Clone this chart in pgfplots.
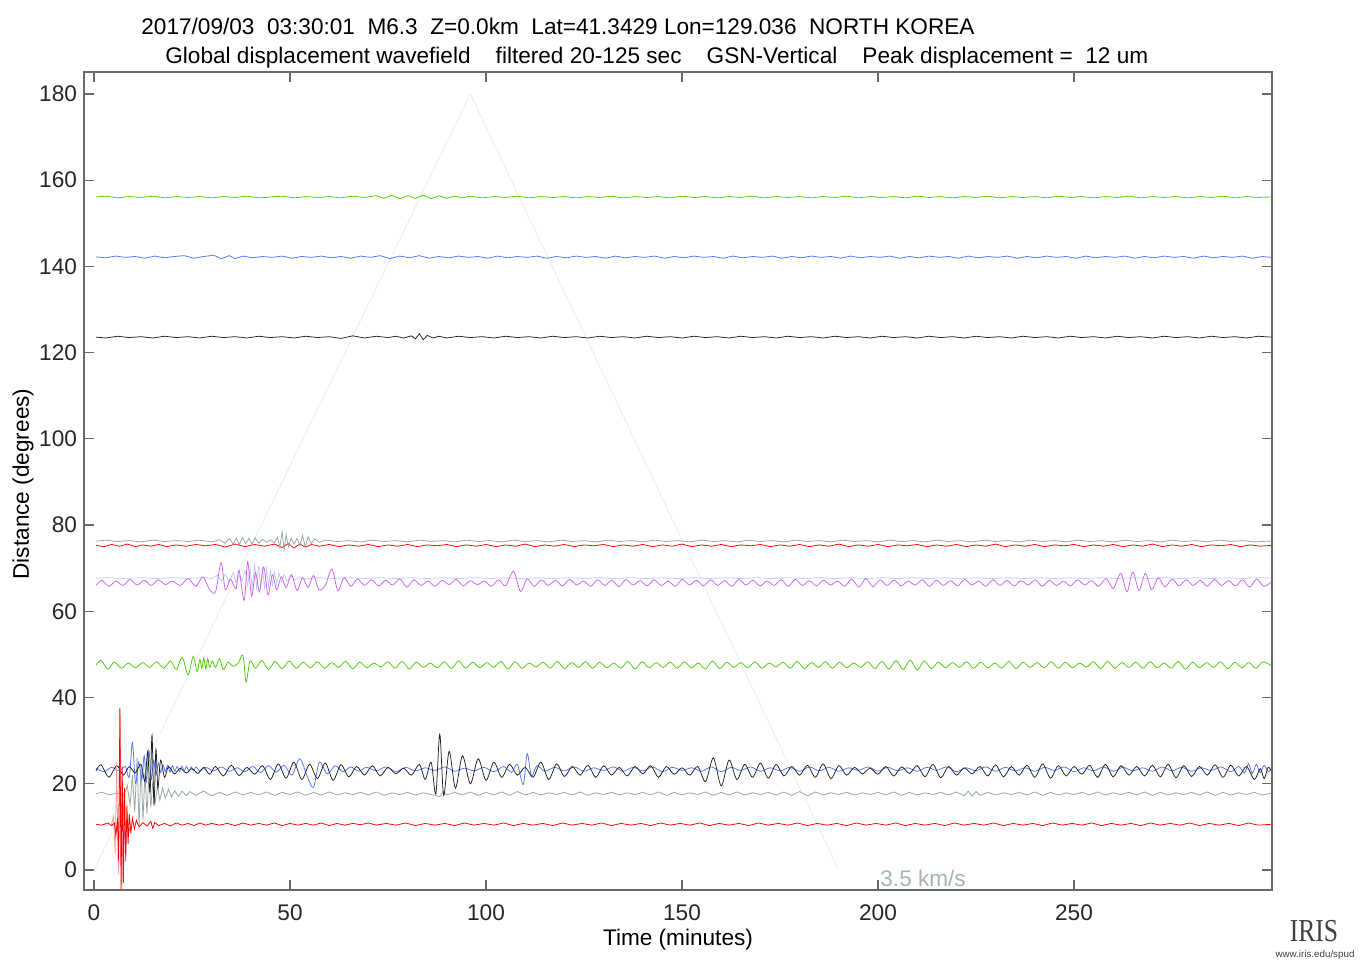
\documentclass[border=0pt]{standalone}
\usepackage{pgfplots}
\pgfplotsset{compat=1.18}
\usepackage{fontspec}
\setmainfont{Liberation Sans}
\newfontfamily\irisfont{Liberation Serif}
\definecolor{cgreen}{RGB}{80,205,10}
\definecolor{cblue}{RGB}{85,115,255}
\definecolor{cblack}{RGB}{35,35,35}
\definecolor{cmag}{RGB}{205,100,245}
\definecolor{clav}{RGB}{195,200,255}
\definecolor{cgray}{RGB}{150,165,165}
\definecolor{cred}{RGB}{255,0,0}
\definecolor{cpink}{RGB}{255,150,150}
\definecolor{caxis}{RGB}{105,105,105}
\definecolor{ctri}{RGB}{234,237,237}
\definecolor{ckm}{RGB}{165,180,180}
\begin{document}
\begin{tikzpicture}
\path[use as bounding box] (-42pt,-35.5pt) rectangle (639pt,445pt);
\begin{axis}[at={(0pt,0pt)}, anchor=south west, scale only axis,
  width=594pt, height=409pt,
  xmin=-2.55, xmax=300.5, ymin=-4.64, ymax=185.1,
  xtick={0,50,100,150,200,250}, ytick={0,20,40,60,80,100,120,140,160,180},
  tick align=inside, major tick length=5pt,
  axis line style={caxis, line width=0.6pt},
  every tick/.style={caxis, line width=0.6pt},
  tick label style={font=\fontsize{11.3}{13}\selectfont, text=black!85},
  /pgf/number format/assume math mode=true,
  xticklabel style={yshift=-4pt},
  every axis plot/.append style={line width=0.38pt},
]
% 3.5 km/s reference lines
\addplot[ctri, line width=0.4pt] coordinates {(0,0) (96,180) (190,0)};
% green 156
\addplot[cgreen] coordinates {(0.5,156.1) (3,156.3) (6,155.9) (9,156.2) (12,156.0) (15,156.3) (18,155.9) (21,156.2) (24,156.0) (27,156.2) (30,155.9) (33,156.2) (36,156.0) (39,156.3) (42,155.9) (45,156.1) (48,156.3) (51,155.9) (54,156.2) (57,156.0) (60,156.2) (63,155.9) (66,156.3) (69,156.0) (72,156.4) (74,155.8) (76,156.5) (78,155.7) (80,156.4) (82,155.8) (84,156.5) (86,155.7) (88,156.4) (90,155.8) (92,156.3) (94,155.9) (96,156.3) (99,155.9) (102,156.2) (105,156.0) (108,156.3) (111,155.9) (114,156.2) (117,156.0) (120,156.2) (123,155.9) (126,156.2) (129,156.0) (132,156.3) (135,155.9) (138,156.2) (141,156.0) (144,156.2) (147,155.9) (150,156.3) (153,156.0) (156,156.2) (159,155.9) (162,156.2) (165,156.0) (168,156.3) (171,155.9) (174,156.2) (177,156.0) (180,156.2) (183,155.9) (186,156.2) (189,156.0) (192,156.3) (195,155.9) (198,156.2) (201,156.0) (204,156.2) (207,155.9) (210,156.3) (213,156.0) (216,156.2) (219,155.9) (222,156.2) (225,156.0) (228,156.3) (231,155.9) (234,156.2) (237,156.0) (240,156.2) (243,155.9) (246,156.3) (249,156.0) (252,156.2) (255,155.9) (258,156.2) (261,156.0) (264,156.3) (267,155.9) (270,156.2) (273,156.0) (276,156.2) (279,155.9) (282,156.2) (285,156.0) (288,156.3) (291,155.9) (294,156.2) (297,156.0) (300.3,156.1)};
% blue 142
\addplot[cblue] coordinates {(0.5,142.2) (3,142.0) (5.5,142.4) (8,142.1) (10.5,142.3) (13,141.9) (15.5,142.4) (18,142.0) (20.5,142.3) (23,142.5) (25.5,141.9) (28,142.3) (30.5,142.6) (32.5,141.8) (34.5,142.5) (36,141.8) (38,142.4) (40.5,142.0) (43,142.3) (45.5,142.1) (48,142.4) (50.5,141.9) (53,142.3) (55.5,142.1) (58,142.4) (60.5,142.0) (63,142.3) (65.5,141.9) (68,142.4) (70.5,142.1) (73,142.5) (75.5,141.8) (78,142.4) (80.5,142.0) (83,142.5) (85.5,141.9) (88,142.3) (90.5,142.0) (93,142.4) (95.5,142.1) (98,142.3) (100.5,141.9) (103,142.4) (105.5,142.0) (108,142.3) (110.5,142.1) (113,142.4) (115.5,141.9) (118,142.3) (120.5,142.0) (123,142.4) (125.5,142.1) (128,142.3) (130.5,141.9) (133,142.4) (135.5,142.0) (138,142.3) (140.5,142.1) (143,142.4) (145.5,141.9) (148,142.3) (150.5,142.0) (153,142.4) (155.5,142.1) (158,142.3) (160.5,141.9) (163,142.4) (165.5,142.0) (168,142.3) (170.5,142.1) (173,142.4) (175.5,141.9) (178,142.3) (180.5,142.0) (183,142.4) (185.5,142.1) (188,142.3) (190.5,141.9) (193,142.4) (195.5,142.0) (198,142.3) (200.5,142.1) (203,142.4) (205.5,141.9) (208,142.3) (210.5,142.0) (213,142.4) (215.5,142.1) (218,142.3) (220.5,141.9) (223,142.4) (225.5,142.0) (228,142.3) (230.5,142.1) (233,142.4) (235.5,141.9) (238,142.3) (240.5,142.0) (243,142.4) (245.5,142.1) (248,142.3) (250.5,141.9) (253,142.4) (255.5,142.0) (258,142.3) (260.5,142.1) (263,142.4) (265.5,141.9) (268,142.3) (270.5,142.0) (273,142.4) (275.5,142.1) (278,142.3) (280.5,141.9) (283,142.4) (285.5,142.0) (288,142.3) (290.5,142.1) (293,142.4) (295.5,141.9) (298,142.3) (300.3,142.1)};
% black 123.6
\addplot[cblack] coordinates {(0.5,123.6) (3,123.4) (6,123.8) (9,123.5) (12,123.7) (15,123.4) (18,123.8) (21,123.5) (24,123.7) (27,123.4) (30,123.8) (33,123.5) (36,123.7) (39,123.4) (42,123.8) (45,123.5) (48,123.7) (51,123.4) (54,123.8) (57,123.5) (60,123.7) (63,123.3) (66,123.9) (69,123.4) (72,123.8) (75,123.5) (77,123.8) (79,123.4) (81,123.9) (82,123.2) (83,124.4) (84,123.0) (85,124.0) (86.5,123.4) (88,123.8) (90,123.4) (93,123.8) (96,123.5) (99,123.7) (102,123.4) (105,123.8) (108,123.5) (111,123.7) (114,123.4) (117,123.8) (120,123.5) (123,123.7) (126,123.4) (129,123.8) (132,123.5) (135,123.7) (138,123.4) (141,123.8) (144,123.5) (147,123.7) (150,123.4) (153,123.8) (156,123.5) (159,123.7) (162,123.4) (165,123.8) (168,123.5) (171,123.7) (174,123.4) (177,123.8) (180,123.5) (183,123.7) (186,123.4) (189,123.8) (192,123.5) (195,123.7) (198,123.4) (201,123.8) (204,123.5) (207,123.7) (210,123.4) (213,123.8) (216,123.5) (219,123.7) (222,123.4) (225,123.8) (228,123.5) (231,123.7) (234,123.4) (237,123.8) (240,123.5) (243,123.7) (246,123.4) (249,123.8) (252,123.5) (255,123.7) (258,123.4) (261,123.8) (264,123.5) (267,123.7) (270,123.4) (273,123.8) (276,123.5) (279,123.7) (282,123.4) (285,123.8) (288,123.5) (291,123.7) (294,123.4) (297,123.8) (300.3,123.6)};
% red 75.3
\addplot[cred] coordinates {(0.5,75.3) (2.5,75.0) (4.5,75.5) (6.5,75.1) (8.5,75.6) (10.5,75.0) (12.5,75.4) (14.5,75.1) (16.5,75.5) (18.5,75.0) (21,75.4) (23.5,75.1) (26,75.5) (28.5,75.2) (31,75.5) (33.5,74.9) (36,75.6) (38.5,75.0) (41,75.5) (43.5,75.1) (46,75.6) (48,74.8) (49.5,75.7) (51,74.7) (52.5,75.6) (54,74.9) (55.5,75.5) (57.5,75.1) (60,75.5) (62.5,75.0) (65,75.4) (67.5,75.1) (70,75.5) (72.5,75.0) (75,75.4) (77.5,75.1) (80,75.5) (82.5,75.0) (85,75.4) (87.5,75.2) (90,75.5) (92.5,75.0) (95,75.4) (97.5,75.1) (100,75.5) (102.5,75.0) (105,75.4) (107.5,75.1) (110,75.6) (112.5,75.0) (115,75.4) (117.5,75.1) (120,75.5) (122.5,75.0) (125,75.4) (127.5,75.2) (130,75.5) (132.5,75.0) (135,75.4) (137.5,75.1) (140,75.5) (142.5,75.0) (145,75.4) (147.5,75.1) (150,75.6) (152.5,75.0) (155,75.4) (157.5,75.1) (160,75.5) (162.5,75.0) (165,75.4) (167.5,75.2) (170,75.5) (172.5,75.0) (175,75.4) (177.5,75.1) (180,75.5) (182.5,75.0) (185,75.4) (187.5,75.1) (190,75.6) (192.5,75.0) (195,75.4) (197.5,75.1) (200,75.5) (202.5,75.0) (205,75.4) (207.5,75.2) (210,75.5) (212.5,75.0) (215,75.4) (217.5,75.1) (220,75.5) (222.5,75.0) (225,75.4) (227.5,75.1) (230,75.6) (232.5,75.0) (235,75.4) (237.5,75.1) (240,75.5) (242.5,75.0) (245,75.4) (247.5,75.2) (250,75.5) (252.5,75.0) (255,75.4) (257.5,75.1) (260,75.5) (262.5,75.0) (265,75.4) (267.5,75.1) (270,75.6) (272.5,75.0) (275,75.4) (277.5,75.1) (280,75.5) (282.5,75.0) (285,75.4) (287.5,75.2) (290,75.5) (292.5,75.0) (295,75.4) (297.5,75.1) (300.3,75.3)};
% gray 76.3
\addplot[cgray] coordinates {(0.5,76.3) (3,76.5) (6,76.2) (9,76.4) (12,76.1) (15,76.5) (18,76.2) (21,76.4) (24,76.2) (27,76.5) (30,76.1) (32,76.6) (33.5,75.8) (34.5,76.9) (35.5,75.6) (36.3,77.0) (37.1,75.5) (37.9,77.1) (38.7,75.7) (39.5,76.9) (40.3,75.6) (41.1,77.0) (42,75.8) (43,76.7) (44,76.0) (45,76.6) (46,75.9) (46.8,77.2) (47.4,74.8) (48.0,78.5) (48.5,74.2) (49.0,77.8) (49.6,75.0) (50.3,77.0) (51,75.6) (51.8,76.9) (52.5,75.2) (53.2,77.6) (53.9,75.0) (54.6,77.3) (55.4,75.7) (56.3,76.8) (57.5,76.0) (59,76.5) (62,76.2) (65,76.4) (68,76.1) (71,76.5) (74,76.2) (77,76.4) (80,76.1) (83,76.5) (86,76.2) (89,76.4) (92,76.1) (95,76.5) (98,76.2) (101,76.4) (104,76.1) (107,76.5) (110,76.2) (113,76.4) (116,76.1) (119,76.5) (122,76.2) (125,76.4) (128,76.1) (131,76.5) (134,76.2) (137,76.4) (140,76.1) (143,76.5) (146,76.2) (149,76.4) (152,76.1) (155,76.5) (158,76.2) (161,76.4) (164,76.1) (167,76.5) (170,76.2) (173,76.4) (176,76.1) (179,76.5) (182,76.2) (185,76.4) (188,76.1) (191,76.5) (194,76.2) (197,76.4) (200,76.1) (203,76.5) (206,76.2) (209,76.4) (212,76.1) (215,76.5) (218,76.2) (221,76.4) (224,76.1) (227,76.5) (230,76.2) (233,76.4) (236,76.1) (239,76.5) (242,76.2) (245,76.4) (248,76.1) (251,76.5) (254,76.2) (257,76.4) (260,76.1) (263,76.5) (266,76.2) (269,76.4) (272,76.1) (275,76.5) (278,76.2) (281,76.4) (284,76.1) (287,76.5) (290,76.2) (293,76.4) (296,76.1) (300.3,76.3)};
% lavender 67.7
\addplot[clav] coordinates {(0.5,67.7) (4,67.8) (8,67.6) (12,67.8) (16,67.6) (20,67.8) (24,67.6) (28,67.8) (30,67.6) (31.5,68.3) (32.5,67.0) (33.5,68.6) (34.5,66.8) (35.5,69.0) (36.3,66.5) (37.0,68.3) (37.8,67.0) (38.5,69.5) (39.2,66.0) (39.8,70.0) (40.4,65.5) (41.0,71.0) (41.5,65.0) (42.0,70.5) (42.5,65.5) (43.0,70.2) (43.5,65.2) (44.0,70.0) (44.5,65.8) (45.0,69.5) (45.5,66.0) (46.0,69.0) (46.6,66.5) (47.2,68.8) (47.8,66.8) (48.5,68.5) (49.3,67.0) (50.2,68.2) (51.2,67.3) (52.5,68.0) (54,67.5) (57,67.8) (61,67.6) (65,67.8) (69,67.6) (73,67.8) (77,67.6) (81,67.8) (85,67.6) (89,67.8) (93,67.6) (97,67.8) (101,67.6) (105,67.8) (109,67.6) (113,67.8) (117,67.6) (121,67.8) (125,67.6) (129,67.8) (133,67.6) (137,67.8) (141,67.6) (145,67.8) (149,67.6) (153,67.8) (157,67.6) (161,67.8) (165,67.6) (169,67.8) (173,67.6) (177,67.8) (181,67.6) (185,67.8) (189,67.6) (193,67.8) (197,67.6) (201,67.8) (205,67.6) (209,67.8) (213,67.6) (217,67.8) (221,67.6) (225,67.8) (229,67.6) (233,67.8) (237,67.6) (241,67.8) (245,67.6) (249,67.8) (253,67.6) (257,67.8) (261,67.6) (265,67.8) (269,67.6) (273,67.8) (277,67.6) (281,67.8) (285,67.6) (289,67.8) (293,67.6) (297,67.8) (300.3,67.7)};
% magenta 66.6
\addplot[cmag, smooth] coordinates {(0.5,66.0) (2.0,67.2) (3.8,65.8) (5.6,67.0) (7.4,66.0) (9.2,67.4) (11.0,66.1) (12.8,67.2) (14.6,66.0) (16.4,67.3) (18.2,66.2) (20.0,67.0) (22.0,66.0) (24.0,67.6) (26.0,65.8) (27.8,68.0) (29.5,65.0) (31.0,64.5) (32.4,71.3) (33.5,65.0) (34.8,67.5) (36.2,65.2) (37.0,69.5) (38.3,62.5) (39.2,71.5) (40.2,63.5) (41.2,69.0) (42.2,64.5) (43.3,70.3) (44.4,63.8) (45.5,68.5) (46.6,65.0) (47.8,68.0) (49.0,65.5) (50.4,68.5) (51.8,64.8) (53.2,67.8) (54.6,65.5) (56.0,68.3) (57.4,65.0) (59.0,66.0) (60.7,69.8) (62.2,64.8) (63.8,67.8) (65.5,65.8) (67.2,67.5) (69.0,66.0) (70.8,67.3) (72.6,65.9) (74.4,67.2) (76.2,66.1) (78.0,67.5) (79.8,65.6) (81.6,67.3) (83.4,66.0) (85.2,67.0) (87.0,65.8) (88.8,67.2) (90.6,66.2) (92.4,67.4) (94.2,65.9) (96.0,67.1) (97.8,66.2) (99.6,67.0) (101.4,65.8) (103.2,67.3) (105.0,65.9) (107.0,69.3) (108.8,64.6) (110.5,67.5) (112.3,65.8) (114.1,67.3) (115.9,66.0) (117.7,67.2) (119.5,65.9) (121.3,67.4) (123.1,66.1) (124.9,67.0) (126.7,65.8) (128.5,67.3) (130.3,66.0) (132.1,67.2) (133.9,65.7) (135.7,67.4) (137.5,66.1) (139.3,67.1) (141.1,65.9) (142.9,67.3) (144.7,66.0) (146.5,67.0) (148.3,65.8) (150.1,67.4) (151.9,66.1) (153.7,67.2) (155.5,65.9) (157.3,67.3) (159.1,66.0) (160.9,67.1) (162.7,65.8) (164.5,67.4) (166.3,66.1) (168.1,67.2) (169.9,65.9) (171.7,67.0) (173.5,66.0) (175.3,67.3) (177.1,65.8) (178.9,67.4) (180.7,66.0) (182.5,67.1) (184.3,65.9) (186.1,67.2) (187.9,66.1) (189.7,67.0) (191.5,65.8) (193.3,67.5) (195.1,65.6) (196.9,67.6) (198.7,65.7) (200.5,67.3) (202.3,66.0) (204.1,67.2) (205.9,65.9) (207.7,67.0) (209.5,66.1) (211.3,67.3) (213.1,65.8) (214.9,67.2) (216.7,66.0) (218.5,67.1) (220.3,65.9) (222.1,67.4) (223.9,66.1) (225.7,67.0) (227.5,65.8) (229.3,67.3) (231.1,66.0) (232.9,67.2) (234.7,65.9) (236.5,67.1) (238.3,66.1) (240.1,67.3) (241.9,65.8) (243.7,67.2) (245.5,66.0) (247.3,67.0) (249.1,65.9) (250.9,67.3) (252.7,66.1) (254.5,67.1) (256.3,65.8) (258.2,67.6) (260.0,65.3) (261.9,68.8) (263.5,64.5) (265.0,69.1) (266.6,64.8) (268.2,68.8) (269.8,65.0) (271.5,67.8) (273.2,65.6) (275.0,67.5) (276.8,65.9) (278.6,67.3) (280.4,66.0) (282.2,67.2) (284.0,65.8) (285.8,67.4) (287.6,66.0) (289.4,67.1) (291.2,65.9) (293.0,67.3) (294.8,65.6) (296.6,67.5) (298.4,65.8) (300.3,66.8)};
% green 47.6
\addplot[cgreen, smooth] coordinates {(0.5,47.5) (1.8,48.6) (3.5,46.6) (5.2,48.2) (7.0,46.8) (8.8,48.0) (10.6,46.9) (12.4,48.1) (14.2,47.0) (16.0,48.3) (17.8,46.8) (19.5,48.5) (21.0,46.5) (22.5,49.3) (24.0,45.3) (25.3,49.5) (26.3,46.0) (27.0,48.8) (27.5,46.8) (28.0,49.2) (28.5,46.6) (29.0,49.0) (29.5,47.0) (30.2,48.5) (31.0,47.0) (32.0,49.0) (33.0,46.5) (34.2,48.2) (35.5,47.2) (36.8,48.0) (38.0,49.8) (38.8,43.6) (39.8,48.5) (41.2,46.8) (42.8,48.6) (44.5,46.5) (46.2,48.4) (48.0,46.7) (49.8,48.5) (51.6,46.8) (53.4,48.2) (55.2,46.9) (57.0,48.3) (58.8,46.8) (60.6,48.1) (62.4,47.0) (64.2,48.4) (66.0,46.7) (67.8,48.2) (69.6,46.9) (71.4,48.0) (73.2,47.1) (75.0,48.3) (76.8,46.8) (78.6,48.4) (80.4,46.6) (82.2,48.2) (84.0,47.0) (85.8,48.0) (87.6,46.9) (89.4,48.3) (91.2,46.7) (93.0,48.5) (94.8,46.8) (96.6,48.2) (98.4,46.9) (100.2,48.1) (102.0,47.0) (103.8,48.4) (105.6,46.6) (107.4,48.3) (109.2,46.8) (111.0,48.0) (112.8,47.1) (114.6,48.2) (116.4,46.8) (118.2,48.4) (120.0,46.7) (121.8,48.1) (123.6,47.0) (125.4,48.3) (127.2,46.8) (129.0,48.2) (130.8,46.9) (132.6,48.0) (134.4,46.8) (136.2,48.4) (138.0,46.6) (139.8,48.3) (141.6,46.9) (143.4,48.1) (145.2,47.0) (147.0,48.2) (148.8,46.8) (150.6,48.3) (152.4,46.9) (154.2,48.0) (156.0,46.6) (157.8,48.5) (159.6,46.7) (161.4,48.2) (163.2,47.0) (165.0,48.1) (166.8,46.9) (168.6,48.3) (170.4,46.8) (172.2,48.0) (174.0,47.1) (175.8,48.2) (177.6,46.8) (179.4,48.4) (181.2,46.7) (183.0,48.1) (184.8,47.0) (186.6,48.3) (188.4,46.8) (190.2,48.2) (192.0,46.9) (193.8,48.0) (195.6,47.0) (197.4,48.3) (199.2,46.7) (201.0,48.4) (202.8,46.6) (204.6,48.6) (206.4,46.5) (208.2,48.7) (210.0,46.4) (211.8,48.5) (213.6,46.7) (215.4,48.2) (217.2,46.9) (219.0,48.1) (220.8,47.0) (222.6,48.3) (224.4,46.8) (226.2,48.2) (228.0,46.9) (229.8,48.0) (231.6,46.8) (233.4,48.4) (235.2,46.7) (237.0,48.2) (238.8,47.0) (240.6,48.1) (242.4,46.9) (244.2,48.3) (246.0,46.8) (247.8,48.2) (249.6,46.9) (251.4,48.0) (253.2,47.1) (255.0,48.3) (256.8,46.7) (258.6,48.4) (260.4,46.8) (262.2,48.1) (264.0,47.0) (265.8,48.2) (267.6,46.8) (269.4,48.3) (271.2,46.9) (273.0,48.0) (274.8,46.8) (276.6,48.4) (278.4,46.6) (280.2,48.2) (282.0,46.9) (283.8,48.1) (285.6,47.0) (287.4,48.3) (289.2,46.7) (291.0,48.2) (292.8,46.9) (294.6,48.1) (296.4,46.8) (298.2,48.3) (300.3,47.4)};
% gray 17.7
\addplot[cgray] coordinates {(0.5,17.7) (2,18.0) (4,17.4) (6,17.9) (7.5,17.2) (8.5,19.5) (9.2,15.0) (9.8,22.0) (10.4,13.5) (11.0,26.0) (11.5,10.0) (12.0,24.5) (12.5,11.5) (13.0,22.5) (13.5,13.0) (14.0,21.5) (14.5,14.5) (15.0,20.5) (15.6,15.5) (16.2,19.5) (16.8,16.2) (17.5,19.0) (18.2,16.6) (19.0,18.7) (19.8,16.9) (20.6,18.4) (21.5,17.1) (22.5,18.3) (23.5,17.2) (24.5,18.2) (26,17.3) (28,18.3) (30,17.2) (32,18.0) (34,17.3) (36,18.1) (38,17.4) (40,18.0) (42,17.4) (44,18.1) (46,17.3) (48,18.0) (50,17.5) (52,18.1) (54,17.3) (56,18.0) (58,17.4) (60,18.1) (62,17.4) (64,17.9) (66,17.5) (68,18.0) (70,17.4) (72,18.1) (74,17.3) (76,17.9) (78,17.5) (80,18.0) (82,17.4) (84,17.9) (86,17.5) (87.5,17.2) (88.2,17.0) (89,18.2) (90,17.4) (92,18.0) (94,17.4) (96,18.1) (98,17.3) (100,18.0) (102,17.4) (104,18.1) (106,17.3) (108,18.2) (110,17.4) (112,18.0) (114,17.4) (116,17.9) (118,17.5) (120,18.0) (122,17.4) (124,18.1) (126,17.3) (128,17.9) (130,17.5) (132,18.0) (134,17.4) (136,17.9) (138,17.5) (140,18.0) (142,17.4) (144,18.1) (146,17.3) (148,18.0) (150,17.4) (152,17.9) (154,17.5) (156,18.1) (158,17.3) (160,18.0) (162,17.4) (164,18.1) (166,17.4) (168,17.9) (170,17.5) (172,18.0) (174,17.4) (176,18.1) (178,17.3) (180,18.2) (182,17.2) (184,18.1) (186,17.4) (188,17.9) (190,17.5) (192,18.0) (194,17.4) (196,17.9) (198,17.5) (200,18.0) (202,17.4) (204,18.1) (206,17.3) (208,18.0) (210,17.4) (212,17.9) (214,17.5) (216,18.0) (218,17.4) (220,18.1) (222,17.2) (223,18.3) (224,17.1) (225,18.2) (226,17.3) (228,18.0) (230,17.4) (232,17.9) (234,17.5) (236,18.0) (238,17.4) (240,18.1) (242,17.3) (244,18.0) (246,17.4) (248,17.9) (250,17.5) (252,18.0) (254,17.4) (256,18.1) (258,17.4) (260,17.9) (262,17.5) (264,18.0) (266,17.4) (268,18.1) (270,17.3) (272,18.0) (274,17.4) (276,17.9) (278,17.5) (280,18.0) (282,17.4) (284,18.1) (286,17.3) (288,18.0) (290,17.4) (292,17.9) (294,17.5) (296,18.0) (298,17.4) (300.3,17.8)};
% blue 23.4
\addplot[cblue, smooth] coordinates {(0.5,23.6) (2.5,22.8) (4.5,23.8) (6.5,23.0) (8.0,24.0) (9.0,21.5) (9.8,29.5) (10.6,20.0) (11.4,25.0) (12.2,21.0) (12.8,26.5) (13.4,20.5) (14.0,27.8) (14.6,21.0) (15.2,25.5) (15.8,22.0) (16.4,24.8) (17.0,22.6) (17.6,24.4) (18.2,22.8) (18.8,24.3) (19.4,22.7) (20.0,24.2) (20.6,22.9) (21.2,24.0) (21.8,22.8) (22.4,24.1) (23.0,23.0) (23.6,24.0) (24.2,22.9) (24.8,23.9) (25.4,23.0) (26.0,23.9) (27.0,23.0) (28.5,23.8) (30.5,23.0) (32.5,23.9) (34.5,22.9) (36.5,23.7) (38.5,22.8) (40.5,24.0) (42.5,22.6) (44.5,24.2) (46.5,22.7) (48.5,24.3) (50.5,22.0) (52.5,25.8) (54.5,21.5) (56.0,19.2) (57.5,25.0) (59.5,22.3) (61.5,24.2) (63.5,22.8) (65.5,23.9) (67.5,22.9) (69.5,23.8) (72.0,23.0) (74.5,23.9) (77.0,22.8) (79.5,23.8) (82.0,23.0) (84.5,23.7) (87.0,23.1) (89.5,23.9) (92.0,22.9) (94.5,23.6) (97.0,23.0) (99.5,23.8) (102.0,22.8) (104.5,24.0) (106.5,22.6) (108.0,24.5) (109.5,19.8) (110.5,27.0) (111.6,21.8) (113.0,24.2) (115.0,22.9) (117.5,23.8) (120.0,23.0) (122.5,23.9) (125.0,22.9) (127.5,23.7) (130.0,23.1) (132.5,23.9) (135.0,22.9) (137.5,23.8) (140.0,23.0) (142.5,23.9) (145.0,22.8) (147.5,23.8) (150.0,23.1) (152.5,23.7) (155.0,22.9) (157.5,23.9) (160.0,22.8) (162.5,23.8) (165.0,23.1) (167.5,23.9) (170.0,22.9) (172.5,23.7) (175.0,23.0) (177.5,23.8) (180.0,22.9) (182.5,23.9) (185.0,23.0) (187.5,23.8) (190.0,22.9) (192.5,23.7) (195.0,23.1) (197.5,23.9) (200.0,22.9) (202.5,23.8) (205.0,23.0) (207.5,23.7) (210.0,22.9) (212.5,23.8) (215.0,23.1) (217.5,23.9) (220.0,22.8) (222.5,23.7) (225.0,23.0) (227.5,23.9) (230.0,22.9) (232.5,23.8) (235.0,23.0) (237.5,23.7) (240.0,22.9) (242.5,23.8) (245.0,23.1) (247.5,23.9) (250.0,22.8) (252.5,23.7) (255.0,23.0) (257.5,23.9) (260.0,22.9) (262.5,23.8) (265.0,23.0) (267.5,23.7) (270.0,22.9) (272.5,23.9) (275.0,23.0) (277.5,23.8) (280.0,22.9) (282.5,23.7) (285.0,23.1) (287.5,23.9) (290.0,22.8) (292.0,24.0) (293.5,22.5) (294.5,24.6) (295.5,22.4) (296.5,24.5) (297.5,22.6) (298.5,24.3) (299.5,22.8) (300.3,23.5)};
% black 23.0
\addplot[cblack, smooth] coordinates {(0.5,23.0) (1.8,24.4) (3.8,21.5) (5.8,24.2) (7.5,22.0) (9.0,24.0) (10.5,22.5) (12.0,24.5) (13.0,20.5) (13.7,27.5) (14.3,18.0) (14.8,31.3) (15.3,15.2) (15.8,28.0) (16.3,19.0) (17.0,25.5) (18.0,21.5) (19.0,24.0) (20.5,22.3) (22.0,23.6) (23.5,22.5) (25.0,23.5) (26.5,22.4) (28.0,23.8) (29.5,22.2) (31.0,24.0) (33.0,21.8) (35.0,24.3) (37.0,21.9) (39.0,23.8) (41.0,22.2) (43.0,24.2) (45.0,21.0) (47.0,24.6) (49.0,21.3) (51.0,25.0) (53.0,21.0) (55.0,24.5) (57.0,21.2) (59.0,24.8) (61.0,20.8) (63.0,24.4) (65.0,21.6) (67.0,24.0) (69.0,22.0) (71.0,24.2) (73.0,21.8) (75.0,23.8) (77.0,22.3) (79.0,23.6) (81.0,22.0) (83.0,24.5) (84.5,21.0) (86.0,25.0) (87.2,17.6) (88.2,31.5) (89.2,17.3) (90.6,27.5) (92.2,19.0) (94.0,26.5) (96.0,20.0) (98.0,25.8) (100.0,20.8) (102.0,25.0) (104.0,21.5) (106.0,24.5) (108.0,22.0) (110.0,23.8) (112.0,21.5) (114.0,25.0) (116.0,21.0) (118.0,24.6) (120.0,21.7) (122.0,24.0) (124.0,22.0) (126.0,24.3) (128.0,21.5) (130.0,24.2) (132.0,22.0) (134.0,23.8) (136.0,21.8) (138.0,24.0) (140.0,22.3) (142.0,24.2) (144.0,21.5) (146.0,24.0) (148.0,22.2) (150.0,23.7) (152.0,22.0) (154.0,24.0) (156.0,20.5) (158.0,26.0) (160.0,19.5) (162.0,25.5) (164.0,21.0) (166.0,24.5) (168.0,21.5) (170.0,24.8) (172.0,21.3) (174.0,24.5) (176.0,21.8) (178.0,24.0) (180.0,22.0) (182.0,24.3) (184.0,21.5) (186.0,24.6) (188.0,21.2) (190.0,24.2) (192.0,22.0) (194.0,23.8) (196.0,22.3) (198.0,23.6) (200.0,22.2) (202.0,24.0) (204.0,21.8) (206.0,23.9) (208.0,22.4) (210.0,24.2) (212.0,21.6) (214.0,24.5) (216.0,21.4) (218.0,24.0) (220.0,22.0) (222.0,23.7) (224.0,22.3) (226.0,24.0) (228.0,21.8) (230.0,24.4) (232.0,21.6) (234.0,24.0) (236.0,22.0) (238.0,24.3) (240.0,21.5) (242.0,24.6) (244.0,21.3) (246.0,24.2) (248.0,21.8) (250.0,24.0) (252.0,22.2) (254.0,24.3) (256.0,21.5) (258.0,24.5) (260.0,21.6) (262.0,24.2) (264.0,22.0) (266.0,24.0) (268.0,21.8) (270.0,24.3) (272.0,21.6) (274.0,24.5) (276.0,21.4) (278.0,24.2) (280.0,21.7) (282.0,24.0) (284.0,22.0) (286.0,24.4) (288.0,21.5) (290.0,24.3) (292.0,21.8) (294.0,24.0) (296.0,21.0) (297.5,23.5) (298.5,21.2) (299.5,23.8) (300.3,23.0)};
% pink spike
\addplot[cpink] coordinates {(4.5,10.6) (5.0,12.5) (5.4,4.0) (5.8,25.0) (6.2,-1.0) (6.7,36.0) (7.1,-4.8) (7.6,18.0) (8.0,4.0) (8.5,13.0) (9.0,9.0) (9.6,11.0)};
% red 10.6
\addplot[cred] coordinates {(0.5,10.6) (2,10.4) (3.5,10.9) (4.5,10.3) (5.2,10.9) (5.6,8.0) (6.0,12.0) (6.3,2.0) (6.6,37.5) (6.9,-5.0) (7.2,24.0) (7.5,-3.0) (7.8,19.0) (8.1,2.0) (8.4,15.0) (8.7,6.0) (9.0,13.0) (9.4,8.5) (9.8,12.0) (10.3,9.5) (10.8,11.5) (11.5,10.0) (12.5,11.0) (13.5,10.2) (14.5,11.3) (15.0,9.6) (15.5,11.0) (16.5,10.3) (18,10.8) (19.5,10.2) (21,10.9) (22.5,10.4) (24,10.8) (25.5,10.3) (27,10.9) (28.5,10.4) (30,10.8) (32,10.4) (34,10.8) (36,10.3) (38,10.9) (40,10.4) (42,10.8) (44,10.4) (46,10.9) (48,10.3) (50,10.8) (52,10.4) (54,10.8) (56,10.4) (58,10.9) (60,10.3) (62,10.8) (64,10.4) (66,10.8) (68,10.5) (70,10.9) (72,10.4) (74.5,10.8) (77,10.4) (79.5,10.9) (82,10.3) (84.5,10.8) (87,10.4) (89.5,10.8) (92,10.3) (94.5,10.9) (97,10.4) (99.5,10.8) (102,10.4) (104.5,10.9) (107,10.3) (109.5,10.8) (112,10.4) (114.5,10.8) (117,10.3) (119.5,10.9) (122,10.4) (124.5,10.8) (127,10.4) (129.5,10.9) (132,10.3) (134.5,10.8) (137,10.4) (139.5,10.8) (142,10.3) (144.5,10.9) (147,10.4) (149.5,10.8) (152,10.4) (154.5,10.9) (157,10.3) (159.5,10.8) (162,10.4) (164.5,10.8) (167,10.3) (169.5,10.9) (172,10.4) (174.5,10.8) (177,10.4) (179.5,10.9) (182,10.3) (184.5,10.8) (187,10.4) (189.5,10.8) (192,10.3) (194.5,10.9) (197,10.4) (199.5,10.8) (202,10.4) (204.5,10.9) (207,10.3) (209.5,10.8) (212,10.4) (214.5,10.8) (217,10.3) (219.5,10.9) (222,10.4) (224.5,10.8) (227,10.4) (229.5,10.9) (232,10.3) (234.5,10.8) (237,10.4) (239.5,10.8) (242,10.3) (244.5,10.9) (247,10.4) (249.5,10.8) (252,10.4) (254.5,10.9) (257,10.3) (259.5,10.8) (262,10.4) (264.5,10.8) (267,10.3) (269.5,10.9) (272,10.4) (274.5,10.8) (277,10.4) (279.5,10.9) (282,10.3) (284.5,10.8) (287,10.4) (289.5,10.8) (292,10.3) (294.5,10.9) (297,10.4) (300.3,10.6)};
\end{axis}
% titles and labels
\node[anchor=base west, inner sep=0pt, font=\fontsize{11.3}{13}\selectfont] at (28.5pt,427.5pt) {2017/09/03~~03:30:01~~M6.3~~Z=0.0km~~Lat=41.3429 Lon=129.036~~NORTH KOREA};
\node[anchor=base west, inner sep=0pt, font=\fontsize{11.3}{13}\selectfont] at (40.5pt,413pt) {Global displacement wavefield~~~~filtered 20-125 sec~~~~GSN-Vertical~~~~Peak displacement =~~12 um};
\node[anchor=base, inner sep=0pt, font=\fontsize{11.3}{13}\selectfont] at (297pt,-28pt) {Time (minutes)};
\node[anchor=base, rotate=90, inner sep=0pt, font=\fontsize{11.3}{13}\selectfont] at (-27.5pt,203pt) {Distance (degrees)};
\node[anchor=base west, inner sep=0pt, text=ckm, font=\fontsize{11.3}{13}\selectfont] at (398pt,1.5pt) {3.5 km/s};
\node[anchor=base, inner sep=0pt, xscale=0.8, text=black!75, font=\irisfont\fontsize{16}{16}\selectfont] at (615pt,-26pt) {IRIS};
\node[anchor=base, inner sep=0pt, text=black!75, font=\fontsize{4.9}{5}\selectfont] at (615.5pt,-34pt) {www.iris.edu/spud};
\end{tikzpicture}
\end{document}
